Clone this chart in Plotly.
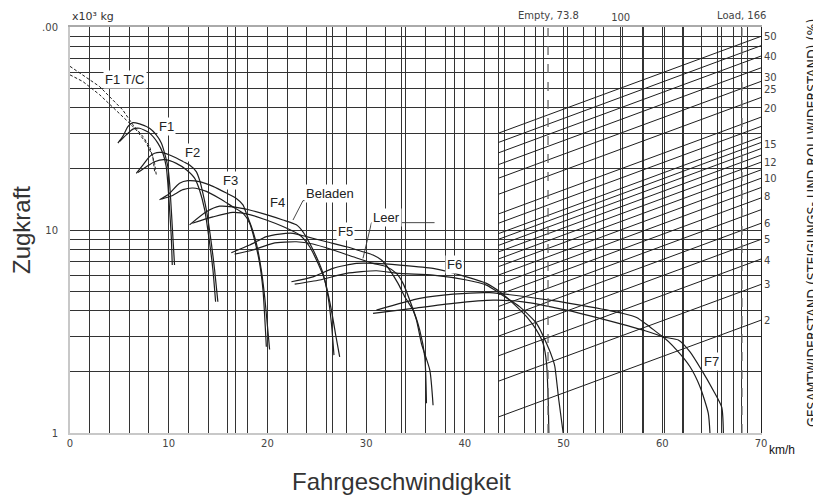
import plotly.graph_objects as go
import math

# ---------------- data ----------------
# x: Fahrgeschwindigkeit km/h, y: Zugkraft x10^3 kg
f1tc_a_x = [0, 1.30, 3.0, 4.34, 5.35, 6.37, 7.38, 8.06, 8.57, 8.74]
f1tc_a_y = [64.0, 58.1, 50.9, 43.7, 39.0, 33.0, 28.9, 25.8, 21.3, 18.7]
f1tc_b_x = [0, 1.30, 3.0, 4.68, 6.03, 6.71, 7.73, 8.39, 8.57]
f1tc_b_y = [58.1, 53.9, 46.4, 39.0, 33.6, 31.1, 26.8, 23.0, 19.4]

f1_a_x = [4.85, 5.35, 5.86, 6.37, 7.05, 8.06, 8.74, 9.25, 9.58, 9.91, 10.09, 10.26, 10.42, 10.59]
f1_a_y = [26.8, 28.9, 32.3, 33.8, 33.3, 31.7, 29.4, 26.8, 23.9, 20.5, 17.0, 12.6, 9.27, 6.72]
f1_b_x = [5.02, 5.70, 6.37, 7.05, 8.06, 8.90, 9.41, 9.75, 9.91, 10.09, 10.26, 10.36]
f1_b_y = [27.3, 29.4, 31.4, 31.7, 30.0, 26.8, 23.9, 20.5, 17.0, 12.6, 9.27, 6.72]

f2_a_x = [6.71, 7.38, 8.06, 8.57, 9.25, 10.09, 11.10, 12.11, 12.79, 13.13, 13.46, 13.81, 14.32, 14.65, 14.98]
f2_a_y = [19.0, 20.9, 23.0, 23.9, 24.1, 23.4, 22.2, 20.9, 19.4, 17.6, 15.2, 12.6, 8.6, 6.35, 4.43]
f2_b_x = [6.87, 7.73, 8.57, 9.58, 10.77, 11.78, 12.62, 13.13, 13.64, 14.15, 14.48, 14.75]
f2_b_y = [19.2, 20.5, 21.7, 22.2, 21.3, 19.8, 18.0, 15.7, 12.6, 8.6, 6.35, 4.43]

f3_a_x = [9.07, 9.91, 11.10, 11.94, 13.13, 14.48, 15.84, 16.85, 17.52, 17.86, 18.37, 18.88, 19.38, 19.72, 20.22]
f3_a_y = [14.1, 14.9, 17.0, 17.5, 17.3, 16.4, 15.2, 14.3, 13.3, 12.1, 10.4, 8.60, 6.35, 4.69, 2.58]
f3_b_x = [9.25, 10.26, 11.44, 12.45, 13.81, 15.16, 16.50, 17.52, 18.20, 18.70, 19.21, 19.55, 19.89]
f3_b_y = [14.2, 14.7, 15.8, 16.1, 15.5, 14.3, 13.0, 12.1, 10.8, 8.93, 6.85, 5.06, 2.66]

f4_a_x = [12.11, 13.81, 15.16, 16.50, 18.20, 19.89, 21.57, 22.93, 23.60, 24.28, 24.96, 25.63, 26.14, 26.48, 26.74]
f4_a_y = [10.6, 12.3, 13.1, 13.0, 12.55, 11.9, 11.2, 10.6, 9.8, 8.6, 7.38, 6.11, 4.69, 3.47, 2.42]
f4_b_x = [12.39, 14.48, 16.50, 18.20, 19.89, 21.57, 23.27, 24.28, 25.12, 25.80, 26.48, 26.92, 27.32]
f4_b_y = [10.8, 11.6, 12.2, 11.9, 11.2, 10.4, 9.45, 8.27, 6.85, 5.67, 4.03, 3.03, 2.37]

f5_a_x = [16.34, 18.20, 19.89, 21.24, 22.59, 23.95, 25.97, 28.0, 29.68, 30.70, 31.55, 32.39, 33.23, 33.91, 34.75, 35.43, 35.94, 36.11]
f5_a_y = [7.73, 8.43, 9.27, 9.55, 9.63, 9.27, 8.75, 8.27, 7.81, 7.53, 7.11, 6.35, 5.46, 4.69, 4.03, 3.21, 2.37, 1.40]
f5_b_x = [16.68, 18.53, 20.56, 22.93, 24.61, 26.64, 28.67, 30.70, 32.06, 33.07, 33.74, 34.42, 35.10, 35.60, 36.45, 36.78]
f5_b_y = [7.61, 7.97, 8.60, 8.75, 8.53, 7.97, 7.38, 6.85, 6.59, 6.11, 5.46, 4.51, 3.60, 2.76, 2.04, 1.37]

f6_a_x = [22.43, 24.61, 26.64, 29.02, 31.04, 33.41, 36.78, 40.17, 42.19, 43.54, 44.89, 46.25, 47.26, 47.93, 48.28, 48.44, 48.51]
f6_a_y = [5.56, 5.88, 6.47, 6.85, 6.85, 6.72, 6.47, 5.88, 5.46, 4.96, 4.35, 3.74, 3.21, 2.76, 2.20, 1.45, 1.0]
f6_b_x = [22.76, 25.29, 28.0, 31.04, 33.41, 36.78, 40.17, 42.19, 43.54, 45.57, 47.26, 48.28, 48.95, 49.12, 49.52, 49.96]
f6_b_y = [5.41, 5.67, 6.11, 6.30, 6.11, 6.0, 5.67, 5.35, 4.87, 4.18, 3.47, 2.76, 2.28, 2.12, 1.45, 1.0]

f7_a_x = [31.04, 35.43, 38.81, 42.53, 48.61, 52.67, 56.04, 57.40, 58.75, 60.10, 61.62, 62.81, 63.99, 65.17, 66.02, 66.19]
f7_a_y = [4.03, 4.60, 4.83, 4.91, 4.51, 4.18, 3.88, 3.71, 3.33, 2.98, 2.87, 2.51, 2.04, 1.62, 1.34, 1.0]
f7_b_x = [30.70, 34.75, 38.81, 42.86, 45.90, 50.30, 53.68, 58.07, 60.10, 61.46, 62.81, 63.82, 64.66, 64.83]
f7_b_y = [3.88, 4.11, 4.35, 4.51, 4.43, 4.03, 3.67, 3.21, 2.96, 2.56, 2.12, 1.69, 1.25, 1.0]

# leader lines of the "Beladen" / "Leer" labels
beladen_x = [27.83, 23.60, 22.59]
beladen_y = [13.95, 13.95, 11.2]
leer_x = [36.93, 30.54, 29.68]
leer_y = [10.87, 10.87, 7.25]

# curve labels: text, speed, rimpull
label_text = ["F1 T/C", "F1", "F2", "F3", "F4", "Beladen", "F5", "Leer", "F6", "F7"]
label_x = [5.53, 9.75, 12.45, 16.27, 21.07, 26.31, 27.93, 32.06, 38.98, 65.0]
label_y = [55.0, 32.3, 24.1, 17.6, 13.7, 15.2, 9.78, 11.5, 6.80, 2.24]

# weight axis (x10^3 kg) and total resistance lines (%)
weight_grid = [20, 30, 40, 50, 60, 70, 80, 90, 100, 110, 120, 130, 140, 150, 160, 170]
weight_empty = 73.8
weight_load = 166
resist_start_weight = 60
resist_pct = [2, 3, 4, 5, 6, 7, 8, 9, 10, 11, 12, 13, 14, 15, 16, 18, 20, 25, 30, 35, 40, 45, 50]
resist_label_text = ["50", "40", "30", "25", "20", "15", "12", "10", "8", "6", "5", "4", "3", "2"]
resist_label_pos = [89.3, 71.6, 56.6, 49.1, 39.8, 26.5, 21.6, 18.0, 14.6, 10.8, 8.93, 7.11, 5.37, 3.57]

# axis ticks
x_ticks = list(range(0, 71, 2))
y_ticks = [d * 10 ** k for k in (0, 1) for d in range(1, 10)] + [100]
y_labels = {1: "1", 10: "10", 100: ".00"}

X2_RANGE = [1.0, 2.2548]
W_END = 10 ** X2_RANGE[1]

# ---------------- figure ----------------
fig = go.Figure()
INK = "#1e1e1e"

for p in resist_pct:
    fig.add_trace(go.Scatter(
        x=[resist_start_weight, W_END],
        y=[resist_start_weight * p / 100, W_END * p / 100],
        xaxis="x2", yaxis="y", mode="lines",
        line=dict(color=INK, width=1), hoverinfo="skip"))

for w in (weight_empty, weight_load):
    fig.add_trace(go.Scatter(x=[w, w], y=[1, 100], xaxis="x2", yaxis="y", mode="lines",
                             line=dict(color="#666", width=1.3, dash="dash"), hoverinfo="skip"))

for xs, ys in ((f1tc_a_x, f1tc_a_y), (f1tc_b_x, f1tc_b_y)):
    fig.add_trace(go.Scatter(x=xs, y=ys, mode="lines",
                             line=dict(color=INK, width=1, dash="3px,2px"), hoverinfo="skip"))

curves = [(f1_a_x, f1_a_y), (f1_b_x, f1_b_y), (f2_a_x, f2_a_y), (f2_b_x, f2_b_y),
          (f3_a_x, f3_a_y), (f3_b_x, f3_b_y), (f4_a_x, f4_a_y), (f4_b_x, f4_b_y),
          (f5_a_x, f5_a_y), (f5_b_x, f5_b_y), (f6_a_x, f6_a_y), (f6_b_x, f6_b_y),
          (f7_a_x, f7_a_y), (f7_b_x, f7_b_y)]
for xs, ys in curves:
    fig.add_trace(go.Scatter(x=xs, y=ys, mode="lines", line_shape="spline",
                             line=dict(color=INK, width=1.2, smoothing=0.6), hoverinfo="skip"))

for xs, ys in ((beladen_x, beladen_y), (leer_x, leer_y)):
    fig.add_trace(go.Scatter(x=xs, y=ys, mode="lines",
                             line=dict(color="#333", width=0.9), hoverinfo="skip"))

fig.add_trace(go.Scatter(x=[0], y=[1], yaxis="y2", mode="markers",
                         marker=dict(opacity=0), hoverinfo="skip"))

annotations = []
for t, x, y in zip(label_text, label_x, label_y):
    annotations.append(dict(x=x, y=math.log10(y), xref="x", yref="y", text=t, showarrow=False,
                            font=dict(family="Liberation Sans, Arial", size=13, color="#222"),
                            bgcolor="white", borderpad=1))

annotations += [
    dict(x=math.log10(weight_empty), y=1, xref="x2", yref="paper", yanchor="bottom", yshift=4,
         text="Empty, 73.8", showarrow=False, font=dict(family="DejaVu Sans", size=10, color="#444")),
    dict(x=math.log10(weight_load), y=1, xref="x2", yref="paper", yanchor="bottom", yshift=4,
         text="Load, 166", showarrow=False, font=dict(family="DejaVu Sans", size=10, color="#444")),
    dict(x=0, y=1, xref="paper", yref="paper", xanchor="left", yanchor="bottom", yshift=2,
         text="x10³ kg", showarrow=False, font=dict(family="DejaVu Sans", size=11, color="#333")),
    dict(x=1, y=0, xref="paper", yref="paper", xanchor="left", yanchor="top", xshift=6, yshift=-8,
         text="km/h", showarrow=False, font=dict(family="Liberation Sans, Arial", size=12, color="#111")),
    dict(x=1, y=0.517, xref="paper", yref="paper", xanchor="center", xshift=51, textangle=-90,
         text="GESAMTWIDERSTAND (STEIGUNGS- UND ROLLWIDERSTAND) (%)", showarrow=False,
         font=dict(family="DejaVu Sans Condensed, Liberation Sans", size=14, color="#222")),
    dict(x=0, y=0.5, xref="paper", yref="paper", xanchor="center", xshift=-49, textangle=-90,
         text="Zugkraft", showarrow=False,
         font=dict(family="Liberation Sans, Arial", size=24, color="#333")),
    dict(x=0.5, y=0, xref="paper", yref="paper", yanchor="middle", yshift=-48, xshift=-14,
         text="Fahrgeschwindigkeit", showarrow=False,
         font=dict(family="Liberation Sans, Arial", size=24, color="#333")),
]

tickfont = dict(family="DejaVu Sans", size=10, color="#444")
GRID = "#333"

# the page body adds an 8 px offset, so the figure is 8 px smaller on each side
fig.update_layout(
    width=813, height=489,
    margin=dict(l=62, r=60, t=19, b=64, autoexpand=False),
    paper_bgcolor="white", plot_bgcolor="white",
    showlegend=False, hovermode=False,
    annotations=annotations,
    xaxis=dict(range=[0, 70], tickvals=x_ticks, automargin=False,
               ticktext=[str(v) if v % 10 == 0 else "" for v in x_ticks],
               showgrid=True, gridcolor=GRID, gridwidth=1, zeroline=False,
               showline=True, linecolor="#c8c8c8", linewidth=2, ticks="",
               tickfont=tickfont),
    xaxis2=dict(type="log", range=X2_RANGE, overlaying="x", side="top", anchor="y",
                automargin=False,
                tickvals=weight_grid, ticktext=["100" if w == 100 else "" for w in weight_grid],
                showgrid=True, gridcolor=GRID, gridwidth=1, zeroline=False,
                showline=True, linecolor="#aaa", linewidth=1.5, ticks="", tickfont=tickfont),
    yaxis=dict(type="log", range=[0, 2], tickvals=y_ticks, automargin=False,
               ticktext=[y_labels.get(v, "") for v in y_ticks],
               showgrid=True, gridcolor=GRID, gridwidth=1, zeroline=False,
               showline=True, linecolor="#c8c8c8", linewidth=2, ticks="",
               tickfont=tickfont, ticklabelstandoff=8),
    yaxis2=dict(type="log", range=[0, 2], overlaying="y", side="right", anchor="x",
                automargin=False,
                tickvals=resist_label_pos, ticktext=resist_label_text,
                showgrid=False, zeroline=False, showline=True, linecolor="#222", linewidth=1,
                ticks="", tickfont=tickfont),
)

fig.write_html("out.html")
